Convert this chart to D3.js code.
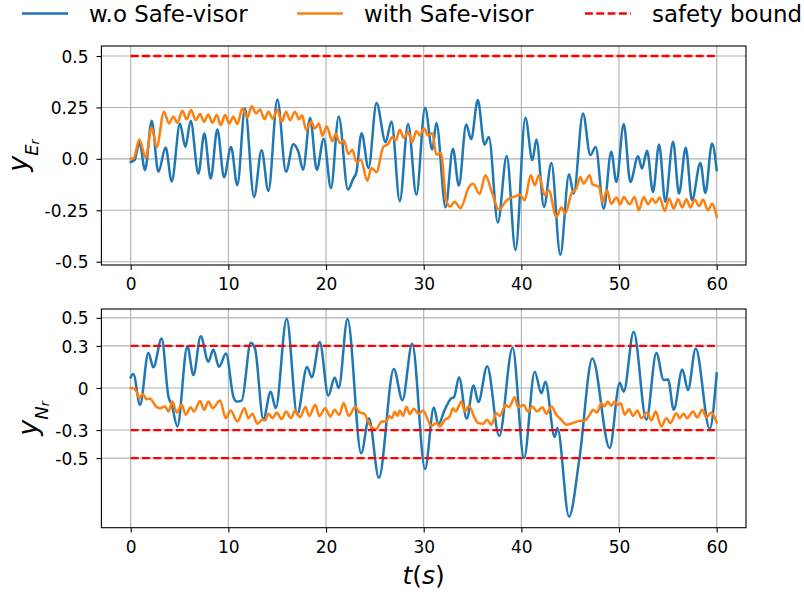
<!DOCTYPE html>
<html><head><meta charset="utf-8">
<script src="https://cdn.jsdelivr.net/npm/d3@7"></script>
<style>body{margin:0;background:#fff}svg{display:block}text{font-family:"DejaVu Sans",sans-serif}</style>
</head><body><div id="chart"></div>
<script>
// ---------------- data ----------------
const xTicks = [0, 10, 20, 30, 40, 50, 60];
const yTicksE = [0.5, 0.25, 0, -0.25, -0.5];
const yTickLabelsE = ["0.5", "0.25", "0.0", "-0.25", "-0.5"];
const yTicksN = [0.5, 0.3, 0, -0.3, -0.5];
const yTickLabelsN = ["0.5", "0.3", "0", "-0.3", "-0.5"];
const boundsE = [0.5];
const boundsN = [0.3, -0.3, -0.5];
const boundT = [0, 60];
const seriesNames = ["w.o Safe-visor", "with Safe-visor", "safety bound"];

// top panel, w.o Safe-visor (blue)
const tE_wo = [0,0.4,0.9,1.47,2.15,2.83,3.58,4.2,5.05,5.6,6.14,6.93,7.54,8.19,8.87,9.56,10.27,10.92,11.7,12.63,13.4,14.1,15.02,15.9,16.65,17.17,17.65,18.37,19.05,19.77,20.5,21.3,22.24,22.8,23.1,23.64,24.35,25.17,26.1,26.7,27.55,28.4,29.25,30.14,30.88,31.3,32.24,32.99,33.6,34.35,34.86,35.54,36.22,36.67,37.59,38.5,39.4,40.41,41.13,41.54,42.32,43.07,43.99,44.88,45.36,46.31,47.06,47.61,48.43,49.2,49.73,50.48,51.16,51.95,52.35,52.87,53.48,54.1,54.74,55.53,56.14,56.83,57.47,58.33,58.84,59.52,60];
const yE_wo = [-0.015,-0.005,0.08,-0.055,0.185,-0.063,0.055,-0.11,0.172,0.058,0.185,-0.071,0.123,-0.096,0.143,-0.09,0.058,-0.128,0.245,-0.185,0.042,-0.156,0.288,-0.063,0.071,0.034,-0.053,0.198,-0.053,0.098,-0.143,0.206,-0.149,-0.095,-0.067,0.125,-0.044,0.271,0.081,0.182,-0.206,0.17,-0.174,0.248,0.045,0.175,-0.235,0.049,-0.13,0.167,0.095,0.286,0.069,0.106,-0.31,0.014,-0.443,0.2,-0.006,0.094,-0.234,-0.02,-0.466,-0.075,-0.169,0.221,0.018,0.058,-0.242,0.034,-0.112,0.169,-0.112,0.013,-0.047,0.039,-0.161,0.07,-0.209,0.083,-0.169,0.054,-0.201,-0.02,-0.166,0.075,-0.055];

// top panel, with Safe-visor (orange)
const tE_with = [0,0.3,0.89,1.54,2.15,2.66,3.41,3.92,4.37,4.78,5.29,5.73,6.18,6.66,7.1,7.51,7.95,8.36,8.81,9.22,9.66,10.1,10.51,10.92,11.43,11.95,12.39,12.83,13.24,13.69,14.1,14.54,15.02,15.46,15.9,16.31,16.83,17.24,17.55,17.96,18.5,18.84,19.27,19.62,20.07,20.65,20.99,21.43,21.84,22.28,22.69,23.13,23.57,24.22,24.66,25.17,25.85,26.36,26.8,27.14,27.55,27.96,28.4,28.81,29.25,29.59,30.05,30.44,30.88,31.29,31.75,32.31,32.72,33.16,33.77,34.6,35.07,35.72,36.32,37.0,37.7,38.45,39.32,39.83,40.34,40.96,41.37,41.81,42.39,42.8,43.58,44.1,44.5,45.12,45.63,46.04,46.38,47.0,47.27,47.95,48.29,48.77,49.2,49.73,50.14,50.48,51.09,51.6,52.01,52.53,52.97,53.38,53.75,54.16,54.68,55.12,55.6,56.04,56.48,56.9,57.3,57.75,58.19,58.6,59.11,59.52,60];
const yE_with = [0,0.003,0.094,0.006,0.153,0.058,0.229,0.172,0.205,0.175,0.234,0.192,0.237,0.188,0.218,0.18,0.216,0.175,0.213,0.164,0.213,0.172,0.205,0.169,0.245,0.201,0.256,0.221,0.24,0.192,0.229,0.196,0.237,0.18,0.229,0.188,0.229,0.192,0.212,0.141,0.182,0.147,0.172,0.112,0.157,0.086,0.122,0.076,0.089,0.024,0.044,-0.016,-0.005,-0.106,-0.044,-0.065,0.057,0.073,0.106,0.089,0.141,0.102,0.13,0.081,0.135,0.114,0.147,0.114,0.125,0.02,0.028,-0.203,-0.232,-0.208,-0.24,-0.14,-0.121,-0.171,-0.08,-0.165,-0.247,-0.203,-0.183,-0.174,-0.201,-0.08,-0.128,-0.08,-0.177,-0.153,-0.282,-0.237,-0.266,-0.169,-0.144,-0.088,-0.12,-0.08,-0.123,-0.136,-0.209,-0.153,-0.218,-0.188,-0.221,-0.185,-0.221,-0.185,-0.25,-0.185,-0.221,-0.193,-0.214,-0.188,-0.253,-0.193,-0.242,-0.196,-0.237,-0.196,-0.237,-0.198,-0.23,-0.198,-0.25,-0.218,-0.282];

// bottom panel, w.o Safe-visor (blue)
const tN_wo = [0,0.27,0.96,1.81,2.32,3.17,3.86,4.2,4.78,5.8,6.42,7.17,7.95,8.46,9.04,9.76,10.51,10.85,11.37,12.29,12.73,13.58,14.33,14.85,15.97,17.05,18.06,18.54,19.35,20.24,20.88,21.3,22.2,23.6,24.39,25.41,26.94,27.82,28.82,30.14,31.04,31.5,32.15,32.83,33.1,33.62,34.4,35.1,35.6,36.5,37.73,39.1,40.27,41.37,42.05,42.46,43.41,43.69,44.88,45.95,47.27,49.04,50.07,50.48,51.5,52.8,53.82,54.57,55.02,55.6,56.48,57.06,57.85,59.28,60];
const yN_wo = [0.076,0.1,-0.12,0.25,0.147,0.352,-0.06,-0.12,-0.274,0.298,0.092,0.369,0.187,0.274,0.151,0.246,-0.061,-0.097,-0.09,0.322,0.28,-0.222,-0.026,-0.144,0.494,-0.19,0.15,0.077,0.327,-0.055,0.075,0.0,0.492,-0.466,-0.216,-0.64,0.136,-0.087,0.315,-0.578,-0.14,-0.26,-0.156,-0.073,-0.066,0.077,-0.22,0.018,-0.1,0.155,-0.343,0.287,-0.5,0.116,-0.038,0.045,-0.35,-0.286,-0.917,-0.5,0.21,-0.428,0.038,-0.026,0.4,-0.227,0.25,0.057,0.061,-0.156,0.132,-0.014,0.281,-0.291,0.104];

// bottom panel, with Safe-visor (orange)
const tN_with = [0,0.3,0.61,0.89,1.23,1.64,1.95,2.66,3.0,3.52,3.86,4.27,4.71,5.22,5.63,6.14,6.48,7.1,7.51,7.95,8.4,9.15,9.73,10.24,10.92,11.64,12.05,12.46,12.97,13.48,13.75,14.1,14.54,14.95,15.46,15.9,16.42,16.83,17.34,17.9,18.28,18.9,19.32,19.9,20.45,20.87,21.35,21.8,22.33,23.0,23.44,23.88,24.49,25.1,25.68,26.19,26.46,26.75,27.04,27.3,27.55,27.89,28.23,28.58,28.99,29.47,29.93,30.78,31.3,31.64,32.15,32.66,33.0,33.28,33.86,34.2,34.64,35.22,35.56,36.08,36.48,36.93,37.44,37.78,38.4,38.74,39.32,39.66,40.24,40.68,41.13,41.6,42.15,42.56,43.07,43.58,44.1,44.6,45.29,45.97,46.48,47.0,47.34,47.75,48.19,48.5,48.87,49.2,49.56,49.85,50.17,50.58,51.02,51.43,51.88,52.29,52.87,53.31,53.75,54.33,54.85,55.26,55.87,56.21,56.62,56.96,57.58,57.99,58.53,58.94,59.45,60];
const yN_with = [0,-0.003,-0.026,-0.073,-0.043,-0.08,-0.075,-0.137,-0.144,-0.132,-0.168,-0.097,-0.175,-0.12,-0.19,-0.137,-0.168,-0.092,-0.156,-0.097,-0.144,-0.09,-0.215,-0.161,-0.239,-0.144,-0.215,-0.184,-0.255,-0.227,-0.232,-0.184,-0.215,-0.175,-0.222,-0.168,-0.215,-0.161,-0.208,-0.135,-0.2,-0.12,-0.2,-0.145,-0.203,-0.156,-0.192,-0.107,-0.2,-0.133,-0.175,-0.181,-0.264,-0.296,-0.24,-0.238,-0.2,-0.215,-0.169,-0.2,-0.16,-0.2,-0.133,-0.186,-0.148,-0.186,-0.16,-0.27,-0.25,-0.274,-0.227,-0.203,-0.144,-0.168,-0.097,-0.168,-0.128,-0.215,-0.25,-0.255,-0.227,-0.262,-0.18,-0.199,-0.121,-0.137,-0.066,-0.137,-0.121,-0.168,-0.132,-0.168,-0.137,-0.184,-0.132,-0.19,-0.227,-0.262,-0.25,-0.234,-0.232,-0.19,-0.156,-0.175,-0.109,-0.13,-0.097,-0.128,-0.097,-0.12,-0.109,-0.19,-0.151,-0.199,-0.161,-0.215,-0.175,-0.232,-0.168,-0.274,-0.215,-0.25,-0.18,-0.215,-0.184,-0.215,-0.168,-0.21,-0.156,-0.21,-0.175,-0.246];

// ---------------- drawing ----------------
const W = 804, H = 596;
const BLUE = "#1f77b4", ORANGE = "#ff7f0e", RED = "#ff0000", GRID = "#b0b0b0";
const LW = 2.5, TICKFS = 17, LEGFS = 22.9, LABFS = 27;

const svg = d3.select("#chart").append("svg").attr("width", W).attr("height", H);
const x = d3.scaleLinear().domain([-3, 63]).range([101.4, 746]);

function zip(ts, vs) { return ts.map((t, i) => [t, vs[i]]); }

function panel(y, yTicks, yLabels, wo, wi, bounds, labelX, sub) {
  const g = svg.append("g");
  const [x0, x1] = x.range();
  const [yb, yt] = y.range();
  g.append("g").selectAll("line").data(xTicks).join("line")
    .attr("x1", d => x(d)).attr("x2", d => x(d)).attr("y1", yt).attr("y2", yb)
    .attr("stroke", GRID).attr("stroke-width", 1.1);
  g.append("g").selectAll("line").data(yTicks).join("line")
    .attr("y1", d => y(d)).attr("y2", d => y(d)).attr("x1", x0).attr("x2", x1)
    .attr("stroke", GRID).attr("stroke-width", 1.1);
  const line = d3.line().x(d => x(d[0])).y(d => y(d[1])).curve(d3.curveMonotoneX);
  const clipId = "clip" + Math.round(yt);
  svg.append("clipPath").attr("id", clipId).append("rect")
    .attr("x", x0).attr("y", yt).attr("width", x1 - x0).attr("height", yb - yt);
  const lg = g.append("g").attr("clip-path", `url(#${clipId})`);
  lg.append("path").datum(wo).attr("d", line).attr("fill", "none")
    .attr("stroke", BLUE).attr("stroke-width", LW).attr("stroke-linejoin", "round").attr("stroke-linecap", "square");
  lg.append("path").datum(wi).attr("d", line).attr("fill", "none")
    .attr("stroke", ORANGE).attr("stroke-width", LW).attr("stroke-linejoin", "round").attr("stroke-linecap", "square");
  lg.selectAll("line.bound").data(bounds).join("line").attr("class", "bound")
    .attr("x1", x(boundT[0])).attr("x2", x(boundT[1]))
    .attr("y1", d => y(d)).attr("y2", d => y(d))
    .attr("stroke", RED).attr("stroke-width", 2.3).attr("stroke-dasharray", "7.9,3.4");
  g.append("rect").attr("x", x0).attr("y", yt).attr("width", x1 - x0).attr("height", yb - yt)
    .attr("fill", "none").attr("stroke", "#000").attr("stroke-width", 1.1);
  const ax = g.append("g").attr("transform", `translate(0,${yb})`)
    .call(d3.axisBottom(x).tickValues(xTicks).tickFormat(d3.format("d")).tickSize(4.9).tickPadding(8.3));
  const ay = g.append("g").attr("transform", `translate(${x0},0)`)
    .call(d3.axisLeft(y).tickValues(yTicks).tickFormat((d, i) => yLabels[i]).tickSize(4.9).tickPadding(8));
  [ax, ay].forEach(a => {
    a.select(".domain").remove();
    a.selectAll("line").attr("stroke", "#000").attr("stroke-width", 1.1);
    a.selectAll("text").attr("font-size", TICKFS).attr("fill", "#000")
      .attr("font-family", "DejaVu Sans");
  });
  ay.selectAll("text").attr("dy", "0.36em");
  const cy = (yt + yb) / 2;
  const t = g.append("text").attr("transform", `translate(${labelX},${cy}) rotate(-90)`)
    .attr("text-anchor", "middle").attr("font-style", "italic").attr("font-size", LABFS);
  t.append("tspan").text("y");
  t.append("tspan").attr("font-size", 18).attr("dy", 11).text(sub);
  t.append("tspan").attr("font-size", 12.7).attr("dy", 1).text("r");
}

const yE = d3.scaleLinear().domain([-0.516, 0.5486]).range([265, 46]);
const yN = d3.scaleLinear().domain([-0.996, 0.563]).range([527.7, 309]);
panel(yE, yTicksE, yTickLabelsE, zip(tE_wo, yE_wo), zip(tE_with, yE_with), boundsE, 27, "E");
panel(yN, yTicksN, yTickLabelsN, zip(tN_wo, yN_wo), zip(tN_with, yN_with), boundsN, 37, "N");

const xl = svg.append("text").attr("x", (x.range()[0] + x.range()[1]) / 2).attr("y", 583.5)
  .attr("text-anchor", "middle").attr("font-size", 25);
xl.append("tspan").attr("font-style", "italic").text("t");
xl.append("tspan").text("(");
xl.append("tspan").attr("font-style", "italic").text("s");
xl.append("tspan").text(")");

const legItems = [
  { name: seriesNames[0], color: BLUE, dash: null, x: 22 },
  { name: seriesNames[1], color: ORANGE, dash: null, x: 297 },
  { name: seriesNames[2], color: RED, dash: "7.9,3.4", x: 585 }
];
const leg = svg.append("g");
legItems.forEach(it => {
  leg.append("line").attr("x1", it.x).attr("x2", it.x + 46).attr("y1", 13.5).attr("y2", 13.5)
    .attr("stroke", it.color).attr("stroke-width", it.dash ? 2.3 : LW).attr("stroke-dasharray", it.dash);
  leg.append("text").attr("x", it.x + 67).attr("y", 22.3).attr("font-size", LEGFS).text(it.name);
});
</script></body></html>
